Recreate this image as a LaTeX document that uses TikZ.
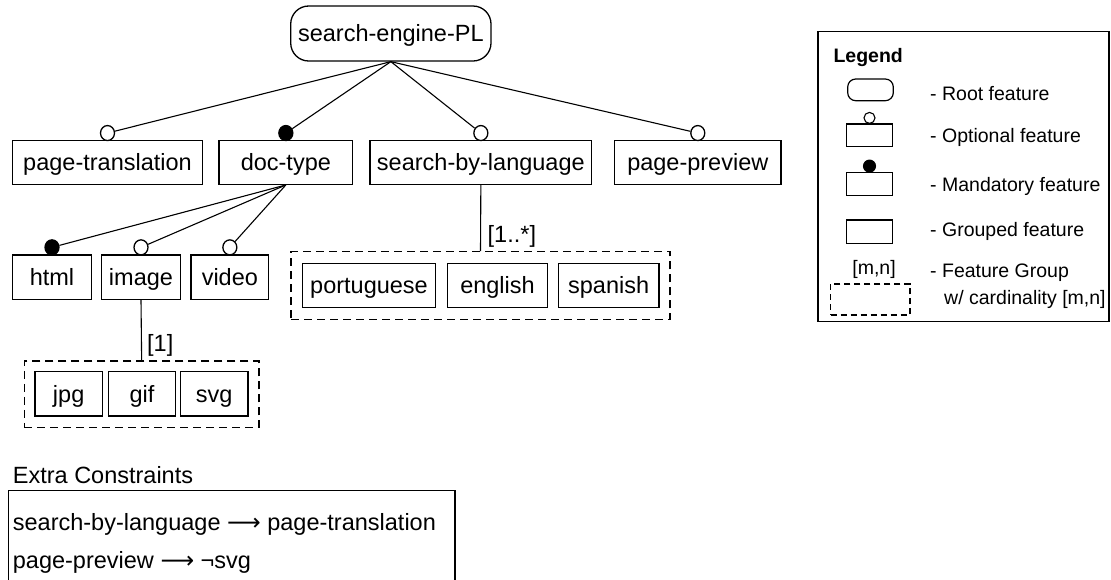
\documentclass[tikz,border=0pt]{standalone}
\usepackage{fontspec}
\usetikzlibrary{shapes.geometric}
\setmainfont{Liberation Sans}
\newfontfamily\symfont{DejaVu Sans}
\newcommand\mainfs{\fontsize{23.5}{28}\selectfont}
\newcommand\legfs{\fontsize{19.5}{23}\selectfont}
\newcommand\impl{{\symfont\fontsize{23.5}{28}\selectfont ⟶}}
\begin{document}
\begin{tikzpicture}[x=1pt,y=-1pt,
  feat/.style={draw, line width=1.3pt, inner sep=0pt, minimum height=43.6pt,
    font=\mainfs, text height=16.8pt, text depth=0pt},
  rootfeat/.style={feat, rounded corners=18pt},
  group/.style={draw, dash pattern=on 8pt off 5pt, line width=1.3pt, inner sep=0pt},
  optc/.style={ellipse, draw, line width=1.3pt, fill=white, minimum width=14pt, minimum height=15pt, inner sep=0pt},
  mandc/.style={optc, fill=black},
  conn/.style={draw, line width=1.1pt},
  card/.style={font=\mainfs, inner sep=0pt, anchor=west, text height=16.8pt, text depth=0pt},
  icon/.style={draw, line width=1.2pt, inner sep=0pt, minimum width=45.6pt},
  ltext/.style={font=\legfs, inner sep=0pt, anchor=west, text height=14pt, text depth=0pt},
  ctext/.style={font=\mainfs, inner sep=0pt, anchor=base west}]
\useasboundingbox (0,0) rectangle (1111,579);

% feature tree
\node[rootfeat, minimum width=200.3pt, minimum height=55pt] (root) at (390.85,33.5) {search-engine-PL};

\node[feat, minimum width=189.6pt] (pt) at (107.5,162.5) {page-translation};
\node[feat, minimum width=133.7pt] (doc) at (285.85,162.5) {doc-type};
\node[feat, minimum width=221.7pt] (sbl) at (480.85,162.5) {search-by-language};
\node[feat, minimum width=166.4pt] (pp) at (697.8,162.5) {page-preview};

\node[optc]  (ptc)  at ([yshift=7pt]pt.north) {};
\node[mandc] (docc) at ([yshift=7pt]doc.north) {};
\node[optc]  (sblc) at ([yshift=7pt]sbl.north) {};
\node[optc]  (ppc)  at ([yshift=7pt]pp.north) {};

\draw[conn] (root.south) -- (ptc);
\draw[conn] (root.south) -- (docc);
\draw[conn] (root.south) -- (sblc);
\draw[conn] (root.south) -- (ppc);

\node[feat, minimum width=78.6pt, minimum height=44.3pt] (html) at (52,277.15) {html};
\node[feat, minimum width=78.6pt, minimum height=44.3pt] (image) at (141,277.15) {image};
\node[feat, minimum width=77.7pt, minimum height=44.3pt] (video) at (229.85,277.15) {video};

\node[mandc] (htmlc)  at ([yshift=7pt]html.north) {};
\node[optc]  (imagec) at ([yshift=7pt]image.north) {};
\node[optc]  (videoc) at ([yshift=7pt]video.north) {};

\draw[conn] (doc.south) -- (htmlc);
\draw[conn] (doc.south) -- (imagec);
\draw[conn] (doc.south) -- (videoc);

% language group
\node[group, minimum width=379pt, minimum height=67.6pt] (langs) at (480.5,285.5) {};
\node[feat, minimum width=133.4pt, minimum height=44pt] (pt-lang) at (369,285.3) {portuguese};
\node[feat, minimum width=100.4pt, minimum height=44pt] (en) at (497.5,285.3) {english};
\node[feat, minimum width=100.7pt, minimum height=44pt] (es) at (608.65,285.3) {spanish};
\draw[conn] (sbl.south) -- (langs.north);
\node[card] (langcard) at (487.5,234.3) {[1..*]};

% image format group
\node[group, minimum width=234.7pt, minimum height=66.7pt] (formats) at (141.65,394.35) {};
\node[feat, minimum width=67.3pt, minimum height=44.3pt] (jpg) at (68.65,393.85) {jpg};
\node[feat, minimum width=67.4pt, minimum height=44.3pt] (gif) at (142,393.85) {gif};
\node[feat, minimum width=67.7pt, minimum height=44.3pt] (svg) at (214.15,393.85) {svg};
\draw[conn] (image.south) -- (formats.north);
\node[card] (fmtcard) at (147,343.3) {[1]};

% legend
\node[draw, line width=1.2pt, minimum width=291pt, minimum height=290pt, inner sep=0pt] (legend) at (963.5,176.7) {};
\node[font=\legfs\bfseries, inner sep=0pt, anchor=west, text height=14pt, text depth=0pt] (legtitle) at (833.3,55.7) {Legend};

\node[icon, rounded corners=8pt, minimum height=21.7pt] (lroot) at (870.5,89.85) {};
\node[icon, minimum height=22.7pt] (lopt) at (869.5,135.35) {};
\node[circle, draw, line width=1.1pt, fill=white, minimum size=11pt, inner sep=0pt] (loptc) at ([yshift=5.5pt]lopt.north) {};
\node[icon, minimum height=22.6pt] (lmand) at (869.5,184) {};
\node[circle, draw, line width=1.1pt, fill=black, minimum size=12pt, inner sep=0pt] (lmandc) at ([yshift=6pt]lmand.north) {};
\node[icon, minimum height=23.3pt] (lgrp) at (869.5,231.65) {};
\node[font=\legfs, inner sep=0pt, text height=14pt, text depth=0pt] (lcard) at (874,267) {[m,n]};
\node[group, dash pattern=on 6pt off 4pt, line width=1.2pt, minimum width=79.3pt, minimum height=31pt] (lfg) at (870.35,299.5) {};

\node[ltext] at (930,93.3) {- Root feature};
\node[ltext] at (930,135) {- Optional feature};
\node[ltext] at (930,184) {- Mandatory feature};
\node[ltext] at (930,229.5) {- Grouped feature};
\node[ltext] at (930,270) {- Feature Group};
\node[ltext] at (944,297) {w/ cardinality [m,n]};

% extra constraints
\node[ctext] (xtitle) at (12.7,483) {Extra Constraints};
\node[draw, line width=1.2pt, minimum width=446.7pt, minimum height=110pt, inner sep=0pt] (xbox) at (231.65,545.7) {};
\node[ctext] (c1) at (12.7,530) {search-by-language \impl{} page-translation};
\node[ctext] (c2) at (12.7,568) {page-preview \impl{} ¬svg};
\end{tikzpicture}
\end{document}
